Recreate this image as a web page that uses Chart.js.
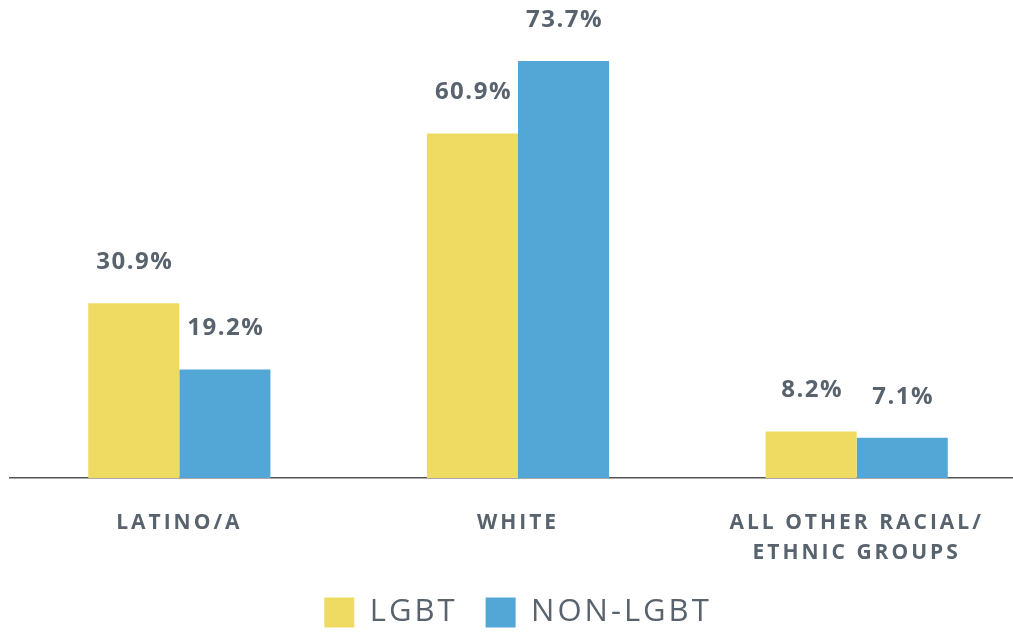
<!DOCTYPE html>
<html>
<head>
<meta charset="utf-8">
<script src="https://cdn.jsdelivr.net/npm/chart.js@4/dist/chart.umd.min.js"></script>
<style>
  html, body { margin: 0; padding: 0; background: #fff; overflow: hidden; }
  #wrap { width: 1026px; height: 632px; }
</style>
</head>
<body>
<div id="wrap"><canvas id="grafico"></canvas></div>
<script>
// dados
const grupos = [["LATINO/A"], ["WHITE"], ["ALL OTHER RACIAL/", "ETHNIC GROUPS"]];
const valoresLgbt = [30.9, 60.9, 8.2];
const valoresNaoLgbt = [19.2, 73.7, 7.1];

const corTexto = "#58636e";

// espaçamento entre letras (eixo e legenda)
const espacamento = {
  id: "espacamento",
  beforeLayout(chart) { chart.ctx.letterSpacing = "3px"; },
  beforeDraw(chart) { chart.ctx.letterSpacing = "3px"; }
};

// rótulos de valor acima das barras
const rotulosValor = {
  id: "rotulosValor",
  afterDatasetsDraw(chart) {
    const ctx = chart.ctx;
    ctx.save();
    ctx.letterSpacing = "1.5px";
    ctx.font = "bold 24px 'Open Sans'";
    ctx.fillStyle = corTexto;
    ctx.textAlign = "center";
    ctx.textBaseline = "middle";
    chart.data.datasets.forEach((ds, i) => {
      chart.getDatasetMeta(i).data.forEach((bar, j) => {
        ctx.fillText(ds.data[j].toFixed(1) + "%", bar.x + 1, bar.y - 41);
      });
    });
    ctx.restore();
  }
};

new Chart("grafico", {
  type: "bar",
  data: {
    labels: grupos,
    datasets: [
      {
        label: "LGBT",
        data: valoresLgbt,
        backgroundColor: "#f0db62",
        categoryPercentage: 0.538,
        barPercentage: 1
      },
      {
        label: "NON-LGBT",
        data: valoresNaoLgbt,
        backgroundColor: "#52a7d6",
        categoryPercentage: 0.538,
        barPercentage: 1
      }
    ]
  },
  options: {
    responsive: true,
    maintainAspectRatio: false,
    animation: false,
    layout: { padding: { left: 10, right: 0, top: 0, bottom: -6 } },
    scales: {
      x: {
        z: 1,
        grid: { display: false },
        border: { display: true, color: "#555", width: 1.5 },
        ticks: {
          color: corTexto,
          font: { family: "'Open Sans'", size: 21, weight: "bold", lineHeight: "30px" },
          padding: 22,
          maxRotation: 0,
          autoSkip: false
        },
        afterFit(scale) { scale.height -= 21; }
      },
      y: {
        display: false,
        min: 0,
        max: 84.5
      }
    },
    plugins: {
      tooltip: { enabled: false },
      legend: {
        position: "bottom",
        labels: {
          color: corTexto,
          boxWidth: 30,
          boxHeight: 30,
          padding: 28,
          font: { family: "'Open Sans'", size: 31, lineHeight: "36px" }
        }
      }
    }
  },
  plugins: [espacamento, rotulosValor]
});
</script>
</body>
</html>
